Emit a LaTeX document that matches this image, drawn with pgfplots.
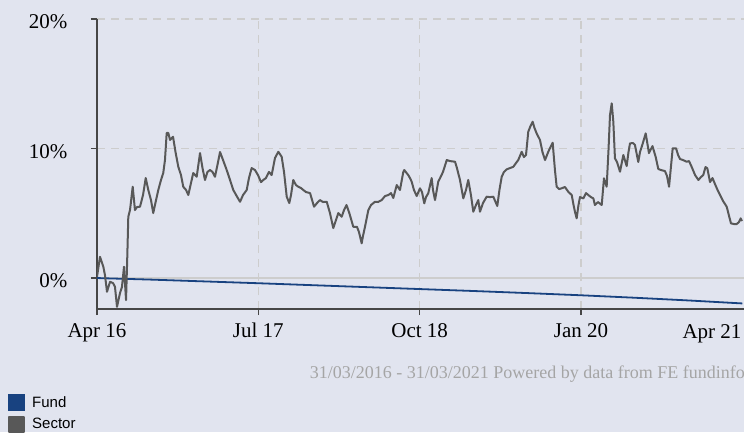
\documentclass[border=0pt]{standalone}
\usepackage{fontspec}
\setmainfont{Liberation Serif}
\newfontfamily\arialf{Liberation Sans}
\usepackage{pgfplots}
\pgfplotsset{compat=1.18}
\definecolor{bg}{RGB}{225,228,239}
\definecolor{fundc}{RGB}{24,66,128}
\definecolor{secc}{RGB}{88,88,88}
\definecolor{gridc}{RGB}{205,205,205}
\definecolor{axc}{RGB}{70,70,70}
\definecolor{srcc}{RGB}{165,165,165}

\pgfplotstableread{
m v
0 0
5 -0.12
10 -0.26
15 -0.40
20 -0.55
25 -0.70
30 -0.85
35 -1.00
40 -1.16
45 -1.33
50 -1.52
55 -1.73
60 -1.96
}\funddata

\pgfplotstableread{
m v
0.00 0.10
0.28 1.64
0.59 0.87
0.74 0.23
0.93 -1.06
1.21 -0.29
1.49 -0.39
1.67 -0.67
1.86 -2.22
2.14 -1.16
2.32 -0.69
2.51 0.87
2.70 -1.70
2.82 1.78
2.91 4.73
3.07 5.25
3.32 7.05
3.53 5.25
3.72 5.48
4.00 5.51
4.28 6.41
4.53 7.72
4.77 6.80
5.02 6.02
5.23 5.02
5.49 6.02
5.70 6.80
5.95 7.57
6.16 8.11
6.32 9.11
6.48 11.20
6.63 11.20
6.79 10.66
7.07 10.91
7.30 9.73
7.56 8.59
7.81 7.95
8.02 7.05
8.28 6.80
8.49 6.41
8.74 7.34
8.95 8.11
9.27 7.82
9.58 9.65
9.81 8.49
10.04 7.57
10.27 8.19
10.51 8.34
10.74 8.19
10.97 7.82
11.20 8.73
11.44 9.73
11.72 9.11
12.06 8.34
12.37 7.57
12.67 6.80
12.99 6.33
13.30 5.89
13.58 6.41
13.92 6.80
14.13 7.72
14.38 8.49
14.69 8.34
14.97 7.95
15.25 7.41
15.46 7.57
15.71 7.72
15.99 8.19
16.24 7.95
16.55 9.27
16.86 9.75
17.17 9.37
17.39 8.19
17.64 6.28
17.88 5.79
18.04 6.41
18.25 7.57
18.50 7.18
18.72 7.05
18.97 6.95
19.18 6.80
19.43 6.64
19.81 6.56
20.18 5.51
20.46 5.79
20.73 6.02
21.01 5.87
21.36 5.89
21.66 5.02
21.97 3.86
22.22 4.48
22.44 5.02
22.75 4.73
22.97 5.25
23.20 5.64
23.46 5.02
23.83 3.96
24.17 3.96
24.36 3.55
24.61 2.68
24.73 3.24
24.92 3.96
25.23 5.25
25.48 5.64
25.85 5.89
26.13 5.87
26.47 6.02
26.78 6.33
27.09 6.41
27.34 6.56
27.55 6.18
27.87 7.18
28.17 6.80
28.48 8.19
28.57 8.34
28.94 7.95
29.10 7.72
29.26 7.44
29.47 6.80
29.73 6.33
30.03 6.93
30.22 6.64
30.43 5.77
30.59 6.25
30.80 6.54
31.12 7.72
31.24 6.80
31.43 6.02
31.73 7.44
31.89 7.70
32.17 8.19
32.52 9.11
32.82 9.03
33.29 8.98
33.47 8.49
33.75 7.57
34.06 6.15
34.31 6.80
34.52 7.57
34.77 6.41
34.99 5.12
35.24 5.64
35.45 6.02
35.61 5.12
35.89 5.79
36.23 6.28
36.54 6.25
36.85 6.28
37.22 5.56
37.42 6.80
37.63 7.82
37.84 8.19
38.09 8.39
38.40 8.49
38.71 8.59
38.96 8.88
39.17 9.11
39.49 9.75
39.70 9.34
39.89 9.50
40.10 11.30
40.31 11.74
40.51 12.07
40.68 11.58
40.88 11.17
41.19 10.66
41.42 9.73
41.66 9.11
41.96 9.75
42.17 10.12
42.37 10.45
42.58 8.34
42.74 7.05
42.96 6.87
43.21 6.93
43.51 7.03
43.82 6.66
44.14 6.41
44.31 5.64
44.44 5.12
44.60 4.61
44.77 5.64
44.91 6.25
45.22 6.15
45.47 6.56
45.68 6.41
45.93 6.25
46.15 6.15
46.30 5.64
46.58 5.87
46.93 5.64
47.14 7.70
47.39 7.05
47.56 9.88
47.70 12.59
47.86 13.49
48.01 12.05
48.16 9.24
48.35 8.96
48.63 8.21
48.94 9.50
49.25 8.65
49.42 9.73
49.56 10.40
49.84 10.42
50.02 10.27
50.33 8.96
50.49 9.73
50.70 10.27
51.02 11.17
51.32 9.65
51.65 10.19
51.95 9.34
52.19 8.42
52.44 8.34
52.81 8.26
53.00 7.88
53.19 7.05
53.53 10.02
53.84 10.02
54.03 9.50
54.21 9.19
54.49 9.11
54.83 8.98
55.05 9.03
55.30 8.57
55.61 7.95
55.92 7.57
56.16 7.80
56.37 7.95
56.58 8.57
56.75 8.47
57.00 7.41
57.23 7.72
57.46 7.26
57.70 6.80
57.93 6.41
58.21 5.95
58.55 5.51
58.77 4.79
58.95 4.22
59.23 4.17
59.48 4.17
59.69 4.32
59.85 4.61
59.97 4.40
}\sectordata

\begin{document}
\begin{tikzpicture}[x=1pt,y=1pt]
\fill[bg] (0,0) rectangle (744,432);
\path[use as bounding box] (0,0) rectangle (744,432);
\begin{axis}[
  at={(97pt,123pt)}, anchor=south west,
  scale only axis, width=647pt, height=290pt,
  xmin=0, xmax=60.16, ymin=-2.39, ymax=20,
  axis lines*=left,
  axis line style={axc, line width=2pt},
  xtick={0,15,30,45}, xticklabels={Apr 16, Jul 17, Oct 18, Jan 20},
  ytick={0,10,20}, yticklabels={0\%,10\%,20\%},
  tick align=outside, major tick length=6pt,
  tick style={axc, line width=1.5pt},
  grid=major,
  major grid style={gridc, line width=1.5pt, dash pattern=on 8pt off 6pt},
  ticklabel style={font=\fontsize{21}{24}\selectfont, text=black},
  xticklabel style={anchor=base, yshift=-22pt},
  yticklabel style={anchor=east, xshift=-20pt, yshift=-3pt},
  legend style={at={(axis description cs:-0.1376,-0.2931)}, anchor=north west,
    draw=none, fill=none, font=\arialf\fontsize{15}{18}\selectfont,
    legend cell align=left, row sep=5pt, inner sep=0pt,
    /tikz/every odd column/.style={column sep=5pt}},
  legend image code/.code={\fill[#1] (0pt,-7.5pt) rectangle (15pt,7.5pt);},
  clip=true,
]
\draw[gridc, line width=2pt] (axis cs:0,0) -- (axis cs:60.16,0);
\addplot[color=fundc, line width=1.8pt] table[x=m,y=v] {\funddata};
\addlegendentry{Fund}
\addplot[color=secc, line width=2pt, line join=round] table[x=m,y=v] {\sectordata};
\addlegendentry{Sector}
\end{axis}
\node[anchor=base, font=\fontsize{21}{24}\selectfont] at (712,94) {Apr 21};
\node[anchor=base east, font=\fontsize{18}{21}\selectfont, text=srcc, inner sep=0pt] at (745,54) {31/03/2016 - 31/03/2021 Powered by data from FE fundinfo};
\end{tikzpicture}
\end{document}
